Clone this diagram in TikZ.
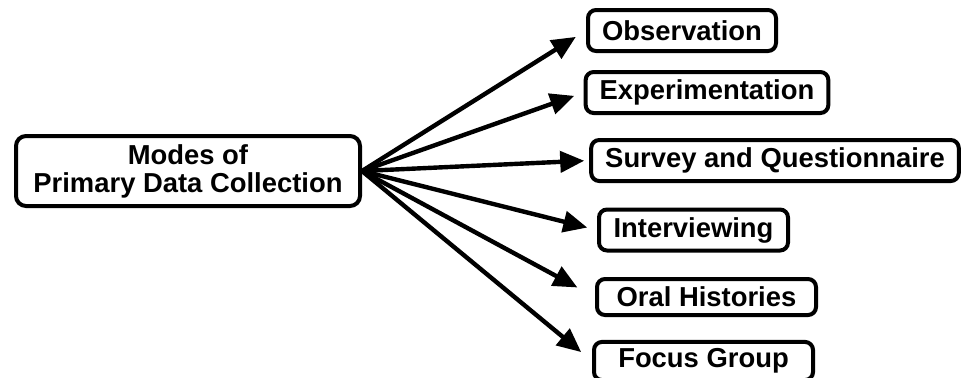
\documentclass[tikz,border=0pt]{standalone}
\usepackage{fontspec}
\setmainfont{Liberation Sans}
\usetikzlibrary{arrows.meta}

\begin{document}
\begin{tikzpicture}
                \tikzset{x=0.5pt, y=-0.5pt}
                \tikzstyle{mode}=[rectangle, draw, rounded corners=4pt, line width=2pt, inner xsep=7pt, minimum height=20.5pt, font=\bfseries\fontsize{13.7}{14}\selectfont]
                \tikzstyle{root}=[mode, rounded corners=5pt, minimum width=172pt, minimum height=35pt, align=center]
                \tikzstyle{link}=[-{Triangle[length=12pt, width=10.5pt]}, line width=2.2pt]

                \useasboundingbox (0,0) rectangle (969,377);

                \draw (188.0, 171.0)  node[root]  (modes)  {Modes of\\Primary Data Collection};

                \draw (682.0,  30.5)  node[mode, minimum width=94pt]   (obs)    {Observation};
                \draw (707.0,  92.5)  node[mode, minimum width=119pt]  (exp)    {Experimentation};
                \draw (775.0, 160.5)  node[mode, minimum width=181pt]  (survey) {Survey and Questionnaire};
                \draw (693.5, 230.0)  node[mode, minimum width=94.5pt] (interv) {Interviewing};
                \draw (706.5, 297.0)  node[mode, minimum width=109.5pt, minimum height=18pt]  (oral)  {Oral Histories};
                \draw (703.5, 361.0)  node[mode, minimum width=109.5pt, minimum height=18pt]  (focus) {Focus Group};

                \draw [link, shorten >=6pt]   (modes.east) -- (obs.west);
                \draw [link, shorten >=5pt]   (modes.east) -- (exp.west);
                \draw [link, shorten >=2.5pt] (modes.east) -- (survey.west);
                \draw [link, shorten >=5pt]   (modes.east) -- (interv.west);
                \draw [link, shorten >=10pt]  (modes.east) -- (oral.west);
                \draw [link, shorten >=7pt]   (modes.east) -- (focus.west);
            \end{tikzpicture}
\end{document}
